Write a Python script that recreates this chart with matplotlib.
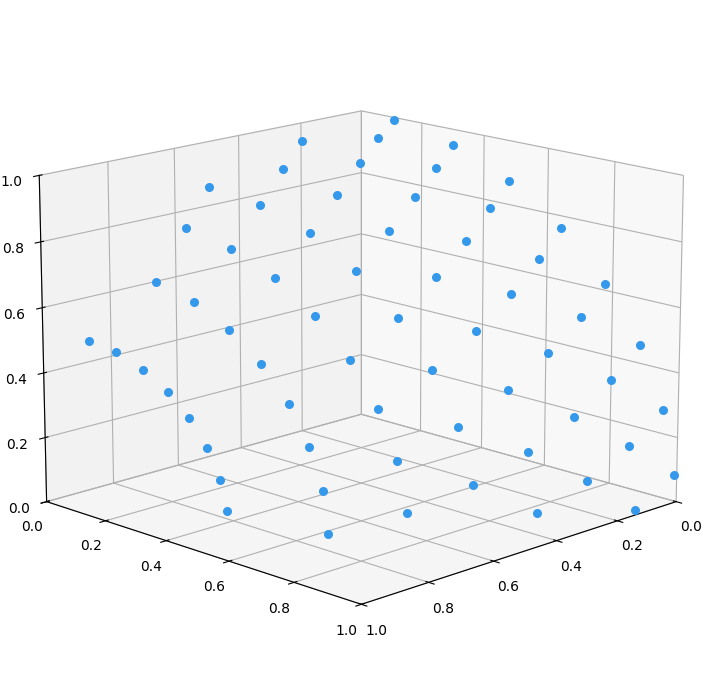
import matplotlib
matplotlib.use('Agg')
import matplotlib.pyplot as plt

# Values, one line per arc of 8 points
x = [0.934, 0.892, 0.853, 0.816, 0.782, 0.755, 0.806, 0.882,
     0.831, 0.773, 0.717, 0.667, 0.622, 0.640, 0.753, 0.860,
     0.784, 0.715, 0.644, 0.579, 0.519, 0.476, 0.558, 0.678,
     0.655, 0.595, 0.568, 0.509, 0.448, 0.396, 0.357, 0.449,
     0.419, 0.378, 0.417, 0.391, 0.331, 0.281, 0.248, 0.376,
     0.269, 0.210, 0.285, 0.347, 0.277, 0.219, 0.175, 0.163,
     0.098, 0.164, 0.267, 0.234, 0.167, 0.115, 0.083, 0.127,
     0.011, 0.063, 0.157, 0.200, 0.128, 0.067, 0.026, 0.004]
y = [0.079, 0.123, 0.167, 0.207, 0.240, 0.267, 0.364, 0.468,
     0.189, 0.249, 0.303, 0.353, 0.393, 0.477, 0.635, 0.760,
     0.238, 0.308, 0.373, 0.434, 0.483, 0.529, 0.670, 0.817,
     0.175, 0.276, 0.407, 0.493, 0.562, 0.619, 0.661, 0.796,
     0.168, 0.301, 0.505, 0.624, 0.691, 0.741, 0.774, 0.919,
     0.076, 0.204, 0.455, 0.673, 0.745, 0.804, 0.845, 0.877,
     0.152, 0.403, 0.670, 0.788, 0.853, 0.900, 0.930, 0.989,
     0.119, 0.360, 0.625, 0.820, 0.890, 0.943, 0.979, 0.996]
z = [0.502, 0.467, 0.415, 0.347, 0.266, 0.174, 0.118, 0.074,
     0.684, 0.623, 0.537, 0.432, 0.309, 0.205, 0.148, 0.086,
     0.846, 0.784, 0.694, 0.579, 0.440, 0.290, 0.191, 0.111,
     0.929, 0.884, 0.820, 0.711, 0.572, 0.413, 0.238, 0.123,
     0.933, 0.873, 0.814, 0.696, 0.534, 0.353, 0.161, 0.052,
     0.971, 0.917, 0.880, 0.808, 0.648, 0.467, 0.270, 0.077,
     0.961, 0.933, 0.888, 0.753, 0.576, 0.381, 0.178, 0.007,
     0.996, 0.976, 0.936, 0.845, 0.677, 0.487, 0.287, 0.082]

fig = plt.figure(figsize=(7.02, 7), dpi=100)
ax = fig.add_axes([0.0029, 0.0004, 0.9968, 0.9996], projection='3d')
ax.scatter(x, y, z, s=30, color='#3498eb', depthshade=False)
ax.set_xlim(0, 1)
ax.set_ylim(0, 1)
ax.set_zlim(0, 1)
ax.view_init(elev=15, azim=45)

fig.savefig('out.png')
